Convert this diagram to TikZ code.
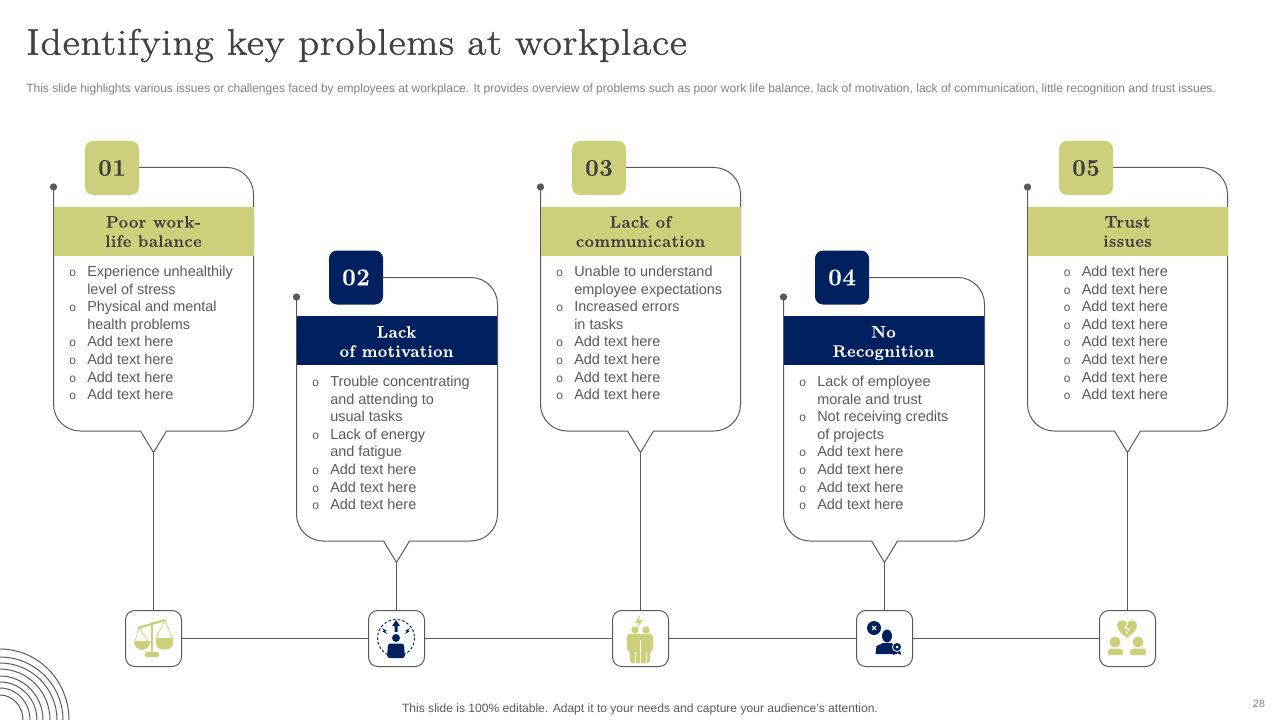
\documentclass[tikz,border=0pt]{standalone}
\usepackage{fontspec}
\setmainfont{Liberation Sans}
\newfontfamily\titlefont[LetterSpace=2.5,FakeBold=1.3,FakeStretch=1.12]{Latin Modern Roman}
\newfontfamily\headfont[LetterSpace=2.5,FakeBold=0.3]{Latin Modern Roman}
\usepackage{xcolor}
\definecolor{olive}{HTML}{CDD07A}
\definecolor{navy}{HTML}{002060}
\definecolor{ink}{HTML}{404040}
\definecolor{bodyink}{HTML}{595959}
\definecolor{edge}{HTML}{595959}
\definecolor{greyink}{HTML}{7F7F7F}
\tikzstyle{badge} = [rectangle, rounded corners=6pt, minimum width=40.5pt, minimum height=40.5pt,
    inner sep=0pt, font=\headfont\bfseries\fontsize{18}{20}\selectfont]
\tikzstyle{head} = [rectangle, minimum width=150pt, minimum height=36.75pt, inner sep=0pt,
    align=center, font=\headfont\bfseries\fontsize{12.5}{14.4}\selectfont]
\tikzstyle{body} = [anchor=north west, inner sep=0pt, align=left, text=bodyink,
    font=\fontsize{10.85}{13.2}\selectfont]
\tikzstyle{iconbox} = [rectangle, rounded corners=7pt, draw=edge, fill=white, line width=0.75pt,
    minimum width=42pt, minimum height=42pt, inner sep=0pt]
\tikzstyle{pin} = [circle, fill=edge, minimum size=5.5pt, inner sep=0pt]
\tikzstyle{outline} = [draw=edge, line width=0.75pt]
\tikzstyle{line} = [draw=edge, line width=0.75pt]
\newcommand{\bul}{\leavevmode\llap{\fontsize{9}{9}\selectfont o\hspace{8.5pt}}}

\begin{document}
\begin{tikzpicture}[x=0.75pt,y=-0.75pt]
\useasboundingbox (0,0) rectangle (1280,720);

% --- heading ---
\node (title) [anchor=west, inner sep=0pt, text=ink, font=\titlefont\fontsize{27.65}{32}\selectfont] at (26,45.5) {Identifying key problems at workplace};
\node (intro) [anchor=west, inner sep=0pt, text=greyink, font=\fontsize{9}{10}\selectfont] at (26,89) {This slide highlights various issues or challenges faced by employees at workplace. It provides overview of problems such as poor work life balance, lack of motivation, lack of communication, little recognition and trust issues.};

% --- anchors of the outlines ---
\node (pina) [pin] at (53.5,187) {};
\node (pinb) [pin] at (296.5,297) {};
\node (pinc) [pin] at (540.5,187) {};
\node (pind) [pin] at (783.5,297) {};
\node (pine) [pin] at (1027.5,187) {};
\coordinate (tipa) at (153.5,452.5);
\coordinate (tipb) at (396.5,562.5);
\coordinate (tipc) at (640.5,452.5);
\coordinate (tipd) at (884.5,562.5);
\coordinate (tipe) at (1127.5,452.5);

% --- outlines ---
\draw[outline] (139,167.5) [rounded corners=20pt] -- (253.5,167.5) -- (253.5,431) [sharp corners] -- (166.5,431) -- (tipa) -- (140.5,431) [rounded corners=20pt] -- (53.5,431) -- (pina.center);
\draw[outline] (383,277.5) [rounded corners=20pt] -- (497.5,277.5) -- (497.5,541) [sharp corners] -- (409.5,541) -- (tipb) -- (383.5,541) [rounded corners=20pt] -- (296.5,541) -- (pinb.center);
\draw[outline] (626,167.5) [rounded corners=20pt] -- (740.5,167.5) -- (740.5,431) [sharp corners] -- (653.5,431) -- (tipc) -- (627.5,431) [rounded corners=20pt] -- (540.5,431) -- (pinc.center);
\draw[outline] (869,277.5) [rounded corners=20pt] -- (984.5,277.5) -- (984.5,541) [sharp corners] -- (897.5,541) -- (tipd) -- (871.5,541) [rounded corners=20pt] -- (783.5,541) -- (pind.center);
\draw[outline] (1113,167.5) [rounded corners=20pt] -- (1227.5,167.5) -- (1227.5,431) [sharp corners] -- (1140.5,431) -- (tipe) -- (1114.5,431) [rounded corners=20pt] -- (1027.5,431) -- (pine.center);

% --- numbers ---
\node (numa) [badge, fill=olive, text=ink] at (112,168) {01};
\node (numb) [badge, fill=navy, text=white] at (356,277.5) {02};
\node (numc) [badge, fill=olive, text=ink] at (599,168) {03};
\node (numd) [badge, fill=navy, text=white] at (842,277.5) {04};
\node (nume) [badge, fill=olive, text=ink] at (1086,168) {05};

% --- headers ---
\node (heada) [head, fill=olive, text=ink] at (153.5,231.5) {Poor work-\\life balance};
\node (headb) [head, fill=navy, text=white] at (396.5,340.5) {\rule{0pt}{10.2pt}Lack\\of motivation};
\node (headc) [head, fill=olive, text=ink] at (640.5,231.5) {Lack of\\communication};
\node (headd) [head, fill=navy, text=white] at (883.5,340.5) {\rule{0pt}{12.5pt}No\\Recognition};
\node (heade) [head, fill=olive, text=ink] at (1127.5,231.5) {Trust\\issues};

% --- lists ---
\node (lista) [body] at (87,265.7) {\bul Experience unhealthily\\level of stress\\\bul Physical and mental\\health problems\\\bul Add text here\\\bul Add text here\\\bul Add text here\\\bul Add text here};
\node (listb) [body] at (330,375.7) {\bul Trouble concentrating\\and attending to\\usual tasks\\\bul Lack of energy\\and fatigue\\\bul Add text here\\\bul Add text here\\\bul Add text here};
\node (listc) [body] at (574,265.7) {\bul Unable to understand\\employee expectations\\\bul Increased errors\\in tasks\\\bul Add text here\\\bul Add text here\\\bul Add text here\\\bul Add text here};
\node (listd) [body] at (817,375.7) {\bul Lack of employee\\morale and trust\\\bul Not receiving credits\\of projects\\\bul Add text here\\\bul Add text here\\\bul Add text here\\\bul Add text here};
\node (liste) [body] at (1081.5,265.7) {\bul Add text here\\\bul Add text here\\\bul Add text here\\\bul Add text here\\\bul Add text here\\\bul Add text here\\\bul Add text here\\\bul Add text here};

% --- icon boxes ---
\node (icona) [iconbox] at (153.5,638.5) {};
\node (iconb) [iconbox] at (396.5,638.5) {};
\node (iconc) [iconbox] at (640.5,638.5) {};
\node (icond) [iconbox] at (884.5,638.5) {};
\node (icone) [iconbox] at (1127.5,638.5) {};

% --- connectors ---
\draw[line] (tipa) -- (icona);
\draw[line] (tipb) -- (iconb);
\draw[line] (tipc) -- (iconc);
\draw[line] (tipd) -- (icond);
\draw[line] (tipe) -- (icone);
\draw[line] (icona) -- (iconb);
\draw[line] (iconb) -- (iconc);
\draw[line] (iconc) -- (icond);
\draw[line] (icond) -- (icone);

% --- icon 1: scales ---
\draw[olive, line width=1.7pt] (138,628) -- (165,620);
\draw[olive, line width=1.8pt] (152,622) -- (152,653);
\draw[olive, line width=0.5pt] (135,641) -- (139,628) -- (148,641) (156,638) -- (165,620) -- (172,638);
\fill[olive] (134,641) -- (150,641) .. controls (150,653) and (134,653) .. cycle;
\fill[olive] (156,638) -- (173,638) -- (173,643) .. controls (173,652) and (156,652) .. (156,643) -- cycle;
\fill[olive, rounded corners=1pt] (145,652) -- (159,652) -- (159,657) -- (145,657) -- cycle;

% --- icon 2: person under pressure ---
\draw[navy, line width=0.7pt, dash pattern=on 2pt off 1.5pt] (396,638) circle (18.5);
\fill[navy] (396,638) circle (4);
\fill[navy, rounded corners=2pt] (387,658) -- (388,643.5) -- (404,643.5) -- (405,658) -- cycle;
\fill[navy] (394.5,632) -- (394.5,626) -- (392,626) -- (396,620) -- (400,626) -- (397.5,626) -- (397.5,632) -- cycle;
\fill[navy] (382,628) -- (387,631) -- (385,631) -- (387,634) -- (382,631) -- (384,631) -- cycle;
\fill[navy] (410,628) -- (405,631) -- (407,631) -- (405,634) -- (410,631) -- (408,631) -- cycle;

% --- icon 3: two people with a spark ---
\fill[olive] (640,615) -- (635,623) -- (639,623) -- (637,628) -- (643,620) -- (639,620) -- cycle;
\fill[olive] (635,630) circle (3.7);
\fill[olive] (646,630) circle (3.7);
\fill[olive, rounded corners=2pt] (627,634) -- (653,634) -- (653,651) -- (650,651) -- (650,663) -- (630,663) -- (630,651) -- (627,651) -- cycle;
\draw[white, line width=0.4pt] (640.5,640) -- (640.5,663) (635,652) -- (635,663) (646,652) -- (646,663);

% --- icon 4: person with rosette ---
\fill[navy] (874,628) circle (7);
\draw[white, line width=0.8pt] (872,626) -- (876,630) (876,626) -- (872,630);
\fill[navy] (887,636) ellipse (5 and 6.5);
\fill[navy] (875.5,654) -- (876.5,646) -- (883,643) -- (891,643) -- (897,646) -- (897,654) -- cycle;
\fill[navy] (894,650) -- (900,650) -- (901,655) -- (897,653) -- (893,655) -- cycle;
\fill[white] (897,647) circle (5);
\fill[navy] (897,647) circle (4);
\fill[white] (897,647) circle (1.5);

% --- icon 5: broken heart between two people ---
\fill[olive] (1127,638) .. controls (1120,633) and (1117,629) .. (1117,625) .. controls (1117,620) and (1124,619) .. (1127,623) .. controls (1130,619) and (1137,620) .. (1137,625) .. controls (1137,629) and (1134,633) .. (1127,638) -- cycle;
\draw[white, line width=0.6pt] (1128,623) -- (1125,628) -- (1129,629) -- (1126,634);
\fill[olive] (1115,642) circle (5.5);
\fill[olive] (1138,642) circle (5.5);
\fill[olive, rounded corners=2pt] (1107,655) -- (1109,648.5) -- (1122,648.5) -- (1124,655) -- cycle;
\fill[olive, rounded corners=2pt] (1129,655) -- (1131,648.5) -- (1145,648.5) -- (1147,655) -- cycle;

% --- corner rings ---
\draw[line] (0,649) arc (-90:0:69 and 71);
\draw[line] (0,657) arc (-90:0:63 and 63);
\draw[line] (0,663) arc (-90:0:57 and 57);
\draw[line] (0,669) arc (-90:0:50 and 51);
\draw[line] (0,676) arc (-90:0:43 and 44);
\draw[line] (0,682) arc (-90:0:37 and 38);
\draw[line] (0,688) arc (-90:0:30 and 32);
\draw[line] (0,695) arc (-90:0:23 and 25);

% --- footer ---
\node (foot) [text=bodyink, inner sep=0pt, font=\fontsize{9.05}{10}\selectfont] at (640,709) {This slide is 100\% editable. Adapt it to your needs and capture your audience's attention.};
\node (pagenum) [text=greyink, inner sep=0pt, font=\fontsize{8}{10}\selectfont] at (1259,704) {28};
\end{tikzpicture}
\end{document}
